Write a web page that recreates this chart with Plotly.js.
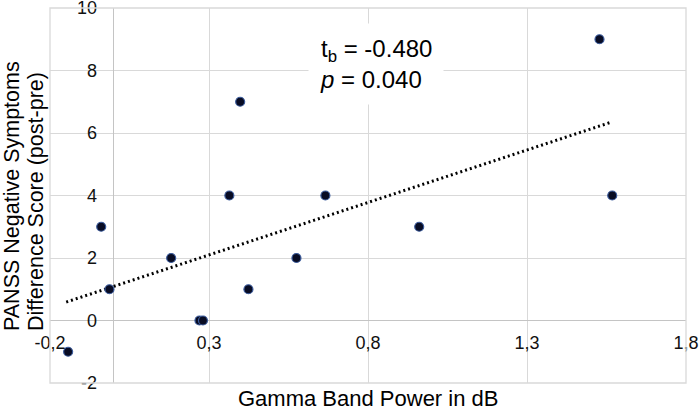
<!DOCTYPE html>
<html>
<head>
<meta charset="utf-8">
<script src="https://cdn.plot.ly/plotly-3.0.1.min.js"></script>
<style>
    html, body { margin: 0; padding: 0; background: white; }
    #plotlyFig { width: 700px; height: 409px; }
</style>
</head>
<body>
<div id="plotlyFig"></div>
<script>
// values
const gammaPower = [-0.143, -0.039, -0.013, 0.181, 0.270, 0.281, 0.364, 0.398, 0.424, 0.575, 0.666, 0.961, 1.528, 1.568];
const panssDiff = [-1, 3, 1, 2, 0, 0, 4, 7, 1, 2, 4, 3, 9, 4];

// dotted trend line, ends as drawn
const trendX = [-0.149, 1.563];
const trendY = [0.59, 6.34];

const xTickVals = [-0.2, 0.3, 0.8, 1.3, 1.8];
const xTickText = ['-0,2', '0,3', '0,8', '1,3', '1,8'];
const yTickVals = [-2, 0, 2, 4, 6, 8, 10];
const yTickText = ['-2', '0', '2', '4', '6', '8', '10'];

const xTitle = 'Gamma Band Power in dB';
const yTitleLines = ['PANSS Negative Symptoms', 'Difference Score (post-pre)'];
const statsText = 't<sub>b</sub> = -0.480<br><i>p</i> = 0.040';

const gridGrey = '#d9d9d9';

const gammaPlot = {
    element: document.getElementById('plotlyFig'),
    config: {
        staticPlot: true,
        displayModeBar: false,
    },
    layout: {
        width: 700,
        height: 409,
        margin: { l: 50, r: 14, t: 8, b: 26 },
        font: {
            family: '"Liberation Sans", Arial, sans-serif',
            color: '#111111',
            size: 18,
        },
        paper_bgcolor: 'white',
        plot_bgcolor: 'white',
        showlegend: false,
        xaxis: {
            range: [-0.2, 1.8],
            tickvals: xTickVals,
            ticktext: xTickText,
            showgrid: true,
            gridcolor: gridGrey,
            zeroline: true,
            zerolinecolor: '#c4c4c4',
            zerolinewidth: 1.3,
            showline: false,
            anchor: 'free',
            position: 2 / 12,
            ticks: 'outside',
            ticklen: 6,
            tickcolor: 'rgba(0,0,0,0)',
            ticklabeloverflow: 'allow',
        },
        yaxis: {
            range: [-2, 10],
            tickvals: yTickVals,
            ticktext: yTickText,
            showgrid: true,
            gridcolor: gridGrey,
            zeroline: true,
            zerolinecolor: '#c4c4c4',
            zerolinewidth: 1.3,
            showline: false,
            anchor: 'free',
            position: 0.1,
            ticks: 'outside',
            ticklen: 13,
            tickcolor: 'rgba(0,0,0,0)',
            ticklabeloverflow: 'allow',
        },
        shapes: [
            {
                type: 'rect', xref: 'paper', yref: 'paper',
                x0: 0, x1: 1, y0: 0, y1: 1,
                line: { color: gridGrey, width: 1.3 },
            },
        ],
        annotations: [
            {
                text: statsText,
                xref: 'x', yref: 'y',
                x: 0.61, y: 8.22,
                xanchor: 'left', yanchor: 'middle',
                align: 'left',
                showarrow: false,
                bgcolor: 'white',
                borderpad: 11,
                font: { size: 24, color: '#000000' },
            },
            {
                text: xTitle,
                xref: 'paper', yref: 'paper',
                x: 0.5, y: -0.04,
                xanchor: 'center', yanchor: 'middle',
                showarrow: false,
                font: { size: 22, color: '#000000' },
            },
            {
                text: yTitleLines[0],
                xref: 'paper', yref: 'paper',
                x: -0.06, y: 0.133,
                xanchor: 'center', yanchor: 'bottom',
                textangle: -90,
                showarrow: false,
                font: { size: 21.5, color: '#000000' },
            },
            {
                text: yTitleLines[1],
                xref: 'paper', yref: 'paper',
                x: -0.023, y: 0.133,
                xanchor: 'center', yanchor: 'bottom',
                textangle: -90,
                showarrow: false,
                font: { size: 21.5, color: '#000000' },
            },
        ],
    },
    get trend() {
        return {
            x: trendX,
            y: trendY,
            type: 'scatter',
            mode: 'lines',
            line: { color: '#000000', width: 3, dash: '2px,3px' },
            hoverinfo: 'skip',
        };
    },
    get points() {
        return {
            x: gammaPower,
            y: panssDiff,
            type: 'scatter',
            mode: 'markers',
            marker: {
                size: 9,
                color: '#080c24',
                line: { color: '#3b5b9c', width: 1.2 },
            },
            cliponaxis: false,
        };
    },
    init() {
        Plotly.newPlot(this.element, [this.trend, this.points], this.layout, this.config);
    },
};

gammaPlot.init();
</script>
</body>
</html>
